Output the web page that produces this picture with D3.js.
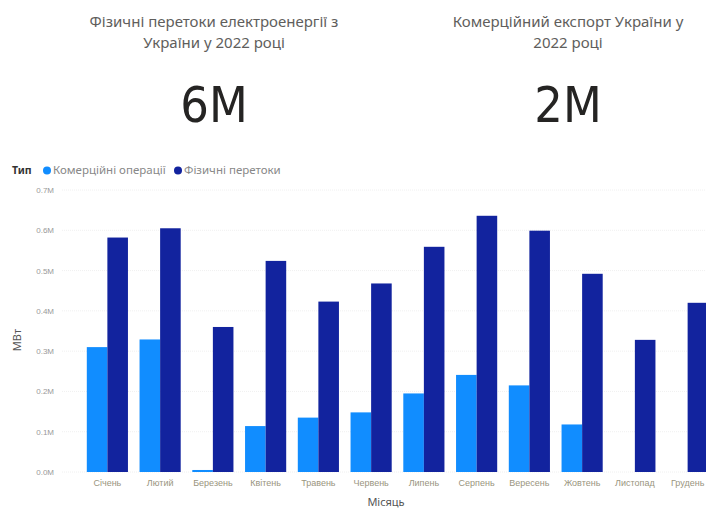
<!DOCTYPE html>
<html>
<head>
<meta charset="utf-8">
<script src="https://cdn.jsdelivr.net/npm/d3@7"></script>
<style>
  body { margin: 0; background: #fff; overflow: hidden; }
  svg { display: block; font-family: "Noto Sans", "Open Sans", sans-serif; }
</style>
</head>
<body>
<svg id="chart" width="706" height="510"></svg>
<script>
// months on the x axis
var months = ['Січень', 'Лютий', 'Березень', 'Квітень', 'Травень', 'Червень',
    'Липень', 'Серпень', 'Вересень', 'Жовтень', 'Листопад', 'Грудень'];
// series values, MWh (millions)
var commercial = [0.310, 0.329, 0.005, 0.114, 0.135, 0.148, 0.195, 0.241, 0.215, 0.118, 0, 0];
var physical = [0.582, 0.605, 0.360, 0.524, 0.423, 0.468, 0.559, 0.636, 0.599, 0.492, 0.328, 0.420];
var seriesNames = ['Комерційні операції', 'Фізичні перетоки'];
var yTicks = [0, 0.1, 0.2, 0.3, 0.4, 0.5, 0.6, 0.7];
// cards
var cardTitles = [['Фізичні перетоки електроенергії з', 'України у 2022 році'],
    ['Комерційний експорт України у', '2022 році']];
var cardValues = ['6M', '2M'];

var colors = ['#118DFF', '#12239E'];

var svg = d3.select('#chart');

// cards on top
var cardX = [214, 568];
cardTitles.forEach(function (lines, i) {
    var t = svg.append('text')
        .attr('x', cardX[i])
        .attr('text-anchor', 'middle')
        .attr('fill', '#605e5c')
        .style('font-size', '15px');
    lines.forEach(function (line, j) {
        t.append('tspan').attr('x', cardX[i]).attr('y', 27 + j * 21).text(line);
    });
    svg.append('text')
        .attr('x', cardX[i])
        .attr('y', 122)
        .attr('text-anchor', 'middle')
        .attr('fill', '#252423')
        .style('font-size', '50px')
        .style('font-family', '"DejaVu Sans Condensed", "DejaVu Sans", sans-serif')
        .style('font-weight', 300)
        .text(cardValues[i]);
});

// column chart
var x = d3.scaleBand()
    .domain(months)
    .range([81, 714])
    .paddingInner(0.22)
    .paddingOuter(0.11);

var x1 = d3.scaleBand()
    .domain([0, 1])
    .range([0, x.bandwidth()]);

var y = d3.scaleLinear()
    .domain([0, 0.7])
    .range([472, 190]);

// gridlines
svg.append('g')
    .selectAll('line')
    .data(yTicks)
    .join('line')
    .attr('x1', 62)
    .attr('x2', 706)
    .attr('y1', function (d) { return y(d); })
    .attr('y2', function (d) { return y(d); })
    .attr('stroke', '#f0f0f0')
    .attr('stroke-dasharray', '1,1');

// y axis
var yAxis = svg.append('g')
    .attr('transform', 'translate(57,0)')
    .call(d3.axisLeft(y).tickValues(yTicks).tickSize(0)
        .tickFormat(function (d) { return d3.format('.1f')(d) + 'M'; }));
yAxis.select('.domain').remove();
yAxis.selectAll('text')
    .attr('fill', '#999')
    .style('font-size', '8px');

// x axis
var xAxis = svg.append('g')
    .attr('transform', 'translate(0,478)')
    .call(d3.axisBottom(x).tickSize(0));
xAxis.select('.domain').remove();
xAxis.selectAll('text')
    .attr('fill', '#9a9580')
    .attr('dy', '0.6em')
    .style('font-size', '9px');

// bars
var groups = svg.append('g')
    .selectAll('g')
    .data(months)
    .join('g')
    .attr('transform', function (d) { return 'translate(' + x(d) + ',0)'; });

groups.selectAll('rect')
    .data(function (d, i) { return [commercial[i], physical[i]]; })
    .join('rect')
    .attr('x', function (d, j) { return x1(j); })
    .attr('y', function (d) { return y(d); })
    .attr('width', x1.bandwidth())
    .attr('height', function (d) { return y(0) - y(d); })
    .attr('fill', function (d, j) { return colors[j]; });

// axis titles
svg.append('text')
    .attr('transform', 'translate(21,340) rotate(-90)')
    .attr('text-anchor', 'middle')
    .attr('fill', '#555')
    .style('font-size', '11px')
    .text('МВт');

svg.append('text')
    .attr('x', 386)
    .attr('y', 506)
    .attr('text-anchor', 'middle')
    .attr('fill', '#555')
    .style('font-size', '11px')
    .text('Місяць');

// legend
var legend = svg.append('g').attr('transform', 'translate(12,174)');
legend.append('text')
    .attr('x', 0)
    .attr('y', 0)
    .attr('fill', '#333')
    .style('font-size', '10.5px')
    .style('font-weight', 'bold')
    .text('Тип');
var legendX = [35, 166];
seriesNames.forEach(function (name, i) {
    legend.append('circle')
        .attr('cx', legendX[i])
        .attr('cy', -3.5)
        .attr('r', 4)
        .attr('fill', colors[i]);
    legend.append('text')
        .attr('x', legendX[i] + 6)
        .attr('y', 0)
        .attr('fill', '#888')
        .style('font-size', '11.5px')
        .text(name);
});
</script>
</body>
</html>
